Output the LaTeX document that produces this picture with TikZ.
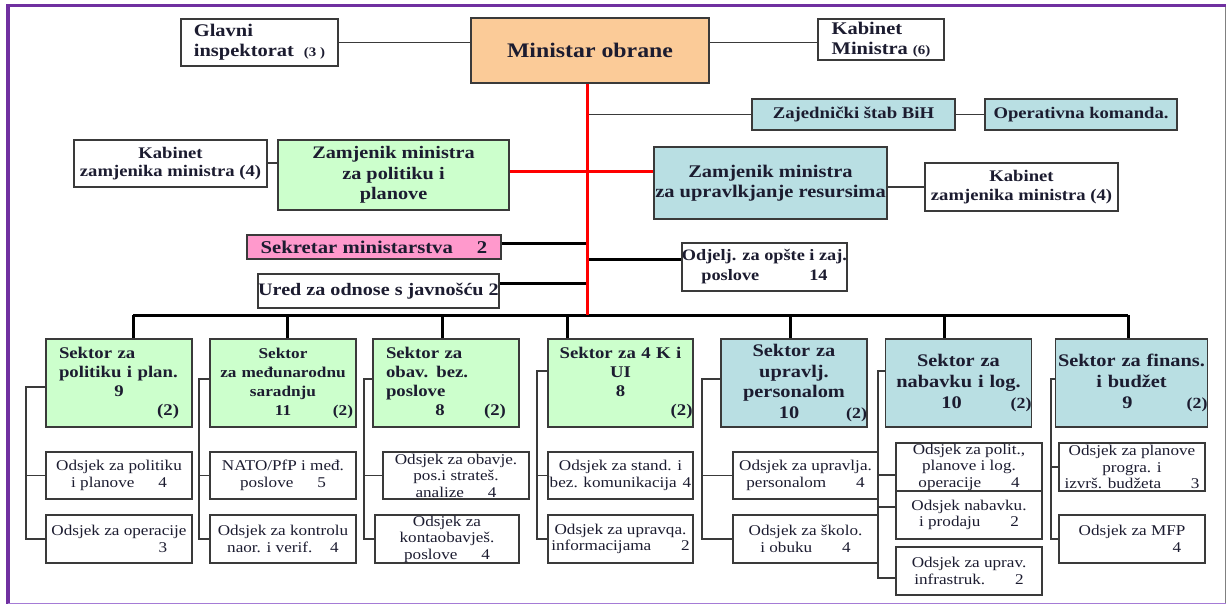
\documentclass[tikz,border=0pt]{standalone}
\usepackage{fontspec}
\setmainfont{Liberation Serif}[FakeStretch=1.15]
\definecolor{peach}{HTML}{FBCB98}
\definecolor{lgreen}{HTML}{CCFFCC}
\definecolor{lblue}{HTML}{B9DFE3}
\definecolor{mypink}{HTML}{FF99CC}
\definecolor{framec}{HTML}{7030A0}
\definecolor{framelt}{HTML}{A57BD6}
\definecolor{txt}{HTML}{1C1C30}
\definecolor{bordc}{HTML}{3A3A3A}
\newcommand\fs[2]{\fontsize{#1}{#2}\selectfont}
\newcommand\bx[7]{\node[box,#6,minimum width={#4-#2},minimum height={#5-#3}] (#1) at ({(#2+#4)/2},{(#3+#5)/2}) {#7};}
\newcommand\ctrline[1]{\makebox[\linewidth]{#1}}
\newcommand\rtline[1]{\makebox[\linewidth][r]{#1}}
\newcommand\numline[2]{\makebox[\linewidth][l]{\makebox[\linewidth]{#1}\llap{#2}}}
\tikzset{
  box/.style={draw=bordc, line width=1.3pt, inner sep=0pt, text=txt, align=center},
  topb/.style={fill=white, font={\bfseries\fs{17.8}{20}}},
  gsec/.style={fill=lgreen, font={\bfseries\fs{16.3}{19}}},
  bsec/.style={fill=lblue, font={\bfseries\fs{17.7}{20.7}}},
  sub/.style={fill=white, font={\fs{14.9}{16.5}}},
  thinln/.style={draw=bordc, line width=1.2pt},
  thickln/.style={draw=black, line width=3pt},
  redln/.style={draw=red, line width=3pt},
}
\begin{document}
\begin{tikzpicture}[x=1pt,y=-1pt]
\useasboundingbox (0,0) rectangle (1226,605);
% frame
\draw[framec, line width=3.5pt] (6,5.5) -- (1226,5.5);
\draw[framec, line width=4pt] (8,4) -- (8,604);
\draw[framelt, line width=1.6pt] (8,603.5) -- (1226,603.5);
\draw[gray, line width=1pt] (1225,7) -- (1225,603);

% top level
\bx{glavni}{181}{19}{338}{66}{topb,align=left}{Glavni\\inspektorat\hspace{10pt}{\fs{13}{13}(3 )}}
\bx{ministar}{471}{18}{709}{83}{fill=peach,font={\bfseries\fs{20.7}{24}}}{Ministar obrane}
\bx{kabmin}{818}{19}{944}{60}{topb,align=left}{Kabinet\\Ministra\hspace{5pt}{\fs{13}{13}(6)}}
\bx{zaj}{752}{99}{955}{130}{fill=lblue,font={\bfseries\fs{16.3}{19}}}{Zajednički štab BiH}
\bx{ops}{985}{99}{1177}{130}{fill=lblue,font={\bfseries\fs{16.2}{19}}}{Operativna komanda.}
\bx{kabL}{74}{140}{267}{187}{fill=white,font={\bfseries\fs{16.2}{18}}}{Kabinet\\zamjenika ministra (4)}
\bx{zpol}{278}{140}{509}{210}{fill=lgreen,font={\bfseries\fs{17.6}{20.5}}}{Zamjenik ministra\\za politiku i\\planove}
\bx{zres}{654}{147}{887}{219}{fill=lblue,font={\bfseries\fs{17.8}{20}}}{Zamjenik ministra\\za upravlkjanje resursima}
\bx{kabR}{925}{163}{1118}{211}{fill=white,font={\bfseries\fs{16.2}{19}}}{Kabinet\\zamjenika ministra (4)}
\bx{sek}{247}{235}{501}{259}{fill=mypink,font={\bfseries\fs{18}{20}}}{Sekretar ministarstva\hspace{24pt}2}
\bx{ured}{258}{274}{499}{308}{topb,font={\bfseries\fs{17.5}{20}}}{Ured za odnose s javnošću 2}
\bx{odj}{682}{243}{847}{291}{fill=white,font={\bfseries\fs{15.9}{20}}}{Odjelj. za opšte i zaj.\\poslove\hspace{50pt}14}

% sectors
\bx{s1}{46}{339}{192}{427}{gsec,text width=120,align=left}{Sektor za\\politiku i plan.\\\ctrline{9}\\\rtline{(2)}}
\bx{s2}{210}{339}{356}{427}{gsec,font={\bfseries\fs{15}{19}},text width=140}{Sektor\\za međunarodnu\\saradnju\\\numline{11}{(2)}}
\bx{s3}{373}{339}{519}{427}{gsec,text width=120,align=left}{Sektor za\\obav. bez.\\poslove\\\numline{8\hspace{12pt}}{(2)}}
\bx{s4}{548}{339}{693}{427}{gsec,text width=144}{Sektor za 4 K i\\UI\\8\\\rtline{(2)}}
\bx{s5}{721}{339}{867}{427}{bsec,text width=146}{Sektor za\\upravlj.\\personalom\\\numline{10\hspace{10pt}}{{\fs{15.5}{15.5}(2)}}}
\bx{s6}{886}{339}{1031}{427}{bsec,text width=146}{Sektor za\\nabavku i log.\\\numline{10\hspace{14pt}}{{\fs{15.5}{15.5}(2)}}}
\bx{s7}{1058}{339}{1205}{427}{bsec,text width=152}{Sektor za finans.\\i budžet\\\numline{9\hspace{8pt}}{{\fs{15.5}{15.5}(2)}}}

% sub units
\bx{c1a}{46}{452}{192}{499}{sub}{Odsjek za politiku\\i planove\hspace{1.6em}4}
\bx{c1b}{46}{515}{192}{563}{sub}{Odsjek za operacije\\\hspace*{88pt}3}
\bx{c2a}{210}{452}{356}{499}{sub}{NATO/PfP i međ.\\poslove\hspace{1.6em}5}
\bx{c2b}{210}{515}{356}{563}{sub}{Odsjek za kontrolu\\naor. i verif.\hspace{1.2em}4}
\bx{c3a}{383}{452}{529}{499}{sub}{Odsjek za obavje.\\pos.i strateš.\\analize\hspace{1.6em}4}
\bx{c3b}{375}{515}{519}{563}{sub}{Odsjek za\\kontaobavješ.\\poslove\hspace{1.6em}4}
\bx{c4a}{548}{452}{693}{499}{sub}{Odsjek za stand. i\\bez. komunikacija\hspace{0.4em}4}
\bx{c4b}{548}{515}{693}{563}{sub}{Odsjek za upravqa.\\informacijama\hspace{2em}2}
\bx{c5a}{733}{452}{878}{499}{sub}{Odsjek za upravlja.\\personalom\hspace{2em}4}
\bx{c5b}{733}{515}{878}{563}{sub}{Odsjek za školo.\\i obuku\hspace{2em}4}
\bx{c6a}{896}{443}{1042}{491}{sub}{Odsjek za polit.,\\planove i log.\\operacije\hspace{2em}4}
\bx{c6b}{896}{491}{1042}{539}{sub}{Odsjek nabavku.\\i prodaju\hspace{2em}2}
\bx{c6c}{896}{547}{1042}{595}{sub}{Odsjek za uprav.\\infrastruk.\hspace{2em}2}
\bx{c7a}{1059}{443}{1205}{491}{sub}{Odsjek za planove\\progra. i\\izvrš. budžeta\hspace{2em}3}
\bx{c7b}{1059}{515}{1205}{563}{sub}{Odsjek za MFP\\\hspace*{90pt}4}

% coordinates
\coordinate (bus) at (587,315);
\coordinate (rh) at (587,171);
\coordinate (r1) at (587,243);
\coordinate (r2) at (587,259);
\coordinate (r3) at (587,283);
\coordinate (d1) at (133,315);
\coordinate (d2) at (287,315);
\coordinate (d3) at (442,315);
\coordinate (d4) at (567,315);
\coordinate (d5) at (790,315);
\coordinate (d6) at (944,315);
\coordinate (d7) at (1128,315);
\coordinate (k1) at (26,387);
\coordinate (k2) at (199,379);
\coordinate (k3) at (364,379);
\coordinate (k4) at (537,371);
\coordinate (k5) at (702,379);
\coordinate (k6) at (878,371);
\coordinate (k6a) at (878,475);
\coordinate (k6b) at (878,507);
\coordinate (k6c) at (878,578);
\coordinate (k7) at (1051,379);

% top connectors
\draw[thinln] (glavni.east) -- (ministar.west |- glavni.east);
\draw[thinln] (ministar.east |- glavni.east) -- (kabmin.west |- glavni.east);
\draw[thinln] (zaj.west -| bus) -- (zaj.west);
\draw[thinln] (zaj.east) -- (ops.west);
\draw[thinln] (kabL.east |- 0,163) -- (zpol.west |- 0,163);
\draw[thinln] (zres.east |- kabR.west) -- (kabR.west);
\draw[redln] (zpol.east |- rh) -- (zres.west |- rh);
\draw[thickln] (sek.east |- r1) -- (r1);
\draw[thickln] (r2) -- (odj.west |- r2);
\draw[thickln] (ured.east |- r3) -- (r3);
\draw[thickln] (d1) -- (d7);
\foreach \i in {1,...,7}{\draw[thickln] (d\i) -- (d\i |- s\i.north);}
\draw[redln] (ministar.south -| bus) -- (bus);

% brackets
\draw[thinln] (s1.west |- k1) -- (k1) |- (c1b.west);
\draw[thinln] (k1 |- c1a.west) -- (c1a.west);
\draw[thinln] (s2.west |- k2) -- (k2) |- (c2b.west);
\draw[thinln] (k2 |- c2a.west) -- (c2a.west);
\draw[thinln] (s3.west |- k3) -- (k3) |- (c3b.west);
\draw[thinln] (k3 |- c3a.west) -- (c3a.west);
\draw[thinln] (s4.west |- k4) -- (k4) |- (c4b.west);
\draw[thinln] (k4 |- c4a.west) -- (c4a.west);
\draw[thinln] (s5.west |- k5) -- (k5) |- (c5b.west);
\draw[thinln] (k5 |- c5a.west) -- (c5a.west);
\draw[thinln] (s6.west |- k6) -- (k6) -- (k6c) -- (c6c.west |- k6c);
\draw[thinln] (k6a) -- (c6a.west |- k6a);
\draw[thinln] (k6b) -- (c6b.west |- k6b);
\draw[thinln] (s7.west |- k7) -- (k7) |- (c7b.west);
\draw[thinln] (k7 |- c7a.west) -- (c7a.west);
\end{tikzpicture}
\end{document}
